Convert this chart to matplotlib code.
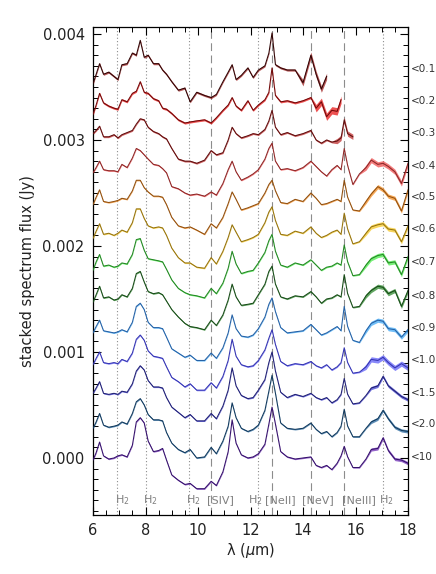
import numpy as np
import matplotlib
matplotlib.use("Agg")
import matplotlib.pyplot as plt
import matplotlib.transforms as mtransforms

nan = float("nan")

# rest wavelength grid (micron), shared by all stacks
wave = [6.0, 6.12, 6.25, 6.4, 6.6, 6.8, 6.95, 7.1, 7.3, 7.5,
        7.65, 7.8, 7.95, 8.1, 8.3, 8.5, 8.65, 8.8, 9.0, 9.25,
        9.5, 9.7, 9.95, 10.25, 10.5, 10.7, 10.95, 11.15, 11.3, 11.45,
        11.65, 11.9, 12.1, 12.3, 12.55, 12.7, 12.82, 12.95, 13.15, 13.4,
        13.7, 14.0, 14.3, 14.5, 14.7, 14.9, 15.1, 15.3, 15.45, 15.57,
        15.7, 15.9, 16.15, 16.4, 16.6, 16.85, 17.05, 17.25, 17.5, 17.75, 18.0]

# stacked (offset) flux in mJy
s_lt01 = [3.53, 3.62, 3.72, 3.62, 3.64, 3.60, 3.57, 3.71, 3.72, 3.82,
          3.80, 3.94, 3.78, 3.80, 3.72, 3.72, 3.66, 3.62, 3.55, 3.47,
          3.49, 3.36, 3.45, 3.42, 3.40, 3.43, 3.55, 3.64, 3.71, 3.57,
          3.61, 3.68, 3.59, 3.66, 3.70, 3.82, 4.01, 3.71, 3.68, 3.66,
          3.66, 3.54, 3.80, 3.62, 3.48, 3.60, nan, nan, nan, nan,
          nan, nan, nan, nan, nan, nan, nan, nan, nan, nan, nan]
s_lt02 = [3.24, 3.33, 3.44, 3.35, 3.32, 3.30, 3.29, 3.38, 3.36, 3.44,
          3.46, 3.55, 3.45, 3.44, 3.39, 3.37, 3.30, 3.29, 3.25, 3.19,
          3.16, 3.17, 3.18, 3.19, 3.16, 3.21, 3.28, 3.33, 3.40, 3.32,
          3.28, 3.37, 3.28, 3.33, 3.38, 3.45, 3.68, 3.42, 3.36, 3.37,
          3.35, 3.37, 3.40, 3.30, 3.36, 3.22, 3.28, 3.27, 3.38, nan,
          nan, nan, nan, nan, nan, nan, nan, nan, nan, nan, nan]
s_lt03 = [3.06, 3.09, 3.13, 3.03, 3.03, 3.05, 3.02, 3.05, 3.07, 3.09,
          3.15, 3.20, 3.19, 3.12, 3.08, 3.06, 3.03, 3.01, 2.92, 2.82,
          2.80, 2.80, 2.78, 2.81, 2.90, 2.86, 2.88, 3.00, 3.12, 3.06,
          3.02, 3.04, 3.06, 3.05, 3.10, 3.18, 3.28, 3.12, 3.05, 3.07,
          3.04, 3.06, 3.09, 3.00, 2.97, 3.00, 2.98, 2.99, 3.02, 3.19,
          3.06, 3.03, nan, nan, nan, nan, nan, nan, nan, nan, nan]
s_lt04 = [2.69, 2.74, 2.80, 2.72, 2.71, 2.71, 2.70, 2.77, 2.74, 2.83,
          2.92, 2.90, 2.86, 2.82, 2.77, 2.76, 2.73, 2.69, 2.56, 2.54,
          2.50, 2.48, 2.49, 2.47, 2.51, 2.48, 2.59, 2.72, 2.80, 2.70,
          2.62, 2.65, 2.68, 2.72, 2.82, 2.92, 2.97, 2.80, 2.72, 2.73,
          2.71, 2.74, 2.80, 2.75, 2.70, 2.66, 2.72, 2.76, 2.72, 2.92,
          2.76, 2.58, 2.68, 2.74, 2.81, 2.77, 2.78, 2.75, 2.70, 2.59, 2.78]
s_lt05 = [2.39, 2.46, 2.53, 2.42, 2.41, 2.42, 2.43, 2.45, 2.44, 2.52,
          2.62, 2.62, 2.55, 2.51, 2.47, 2.47, 2.46, 2.39, 2.27, 2.19,
          2.17, 2.18, 2.15, 2.11, 2.21, 2.17, 2.27, 2.40, 2.51, 2.44,
          2.34, 2.36, 2.38, 2.40, 2.50, 2.58, 2.62, 2.52, 2.41, 2.40,
          2.44, 2.42, 2.50, 2.45, 2.39, 2.40, 2.42, 2.44, 2.42, 2.62,
          2.46, 2.34, 2.33, 2.42, 2.49, 2.56, 2.53, 2.47, 2.45, 2.33, 2.53]
s_lt06 = [2.07, 2.14, 2.21, 2.11, 2.12, 2.10, 2.12, 2.15, 2.13, 2.22,
          2.35, 2.35, 2.26, 2.19, 2.17, 2.18, 2.17, 2.10, 1.98, 1.89,
          1.84, 1.84, 1.80, 1.79, 1.89, 1.83, 1.95, 2.08, 2.20, 2.13,
          2.04, 2.06, 2.08, 2.11, 2.22, 2.32, 2.37, 2.24, 2.11, 2.10,
          2.14, 2.12, 2.18, 2.12, 2.08, 2.10, 2.13, 2.15, 2.11, 2.31,
          2.16, 2.02, 2.04, 2.12, 2.18, 2.20, 2.21, 2.16, 2.15, 2.04, 2.19]
s_lt07 = [1.77, 1.85, 1.92, 1.81, 1.82, 1.80, 1.81, 1.84, 1.83, 1.92,
          2.06, 2.07, 1.96, 1.88, 1.87, 1.86, 1.85, 1.78, 1.68, 1.60,
          1.56, 1.54, 1.53, 1.51, 1.60, 1.55, 1.65, 1.79, 1.95, 1.83,
          1.74, 1.76, 1.77, 1.84, 1.94, 2.05, 2.11, 1.95, 1.82, 1.80,
          1.84, 1.82, 1.87, 1.82, 1.77, 1.80, 1.81, 1.84, 1.82, 2.01,
          1.85, 1.72, 1.73, 1.82, 1.88, 1.91, 1.92, 1.84, 1.85, 1.73, 1.90]
s_lt08 = [1.47, 1.54, 1.62, 1.51, 1.52, 1.49, 1.50, 1.54, 1.52, 1.60,
          1.74, 1.76, 1.66, 1.57, 1.55, 1.56, 1.54, 1.48, 1.40, 1.33,
          1.27, 1.24, 1.23, 1.21, 1.30, 1.25, 1.35, 1.49, 1.64, 1.52,
          1.44, 1.45, 1.46, 1.54, 1.64, 1.76, 1.81, 1.64, 1.52, 1.50,
          1.53, 1.52, 1.57, 1.52, 1.46, 1.50, 1.51, 1.54, 1.52, 1.73,
          1.55, 1.42, 1.43, 1.53, 1.58, 1.62, 1.61, 1.55, 1.58, 1.43, 1.58]
s_lt09 = [1.18, 1.24, 1.30, 1.20, 1.19, 1.18, 1.19, 1.21, 1.19, 1.28,
          1.43, 1.46, 1.40, 1.28, 1.23, 1.23, 1.22, 1.14, 1.03, 0.99,
          0.95, 0.97, 0.92, 0.92, 0.99, 0.94, 1.04, 1.18, 1.35, 1.22,
          1.15, 1.14, 1.16, 1.22, 1.33, 1.45, 1.51, 1.38, 1.23, 1.18,
          1.19, 1.20, 1.26, 1.21, 1.16, 1.18, 1.21, 1.24, 1.20, 1.43,
          1.24, 1.11, 1.09, 1.20, 1.27, 1.30, 1.29, 1.22, 1.21, 1.14, 1.21]
s_lt10 = [0.88, 0.94, 1.00, 0.90, 0.89, 0.90, 0.89, 0.93, 0.91, 0.99,
          1.12, 1.16, 1.11, 1.01, 0.96, 0.95, 0.94, 0.86, 0.76, 0.72,
          0.67, 0.70, 0.64, 0.64, 0.71, 0.66, 0.77, 0.92, 1.12, 0.96,
          0.88, 0.86, 0.87, 0.92, 1.02, 1.13, 1.21, 1.07, 0.91, 0.87,
          0.89, 0.88, 0.91, 0.87, 0.85, 0.88, 0.83, 0.86, 0.90, 1.04,
          0.90, 0.80, 0.81, 0.86, 0.93, 0.92, 0.95, 0.90, 0.85, 0.89, 0.85]
s_lt15 = [0.61, 0.66, 0.72, 0.61, 0.60, 0.61, 0.60, 0.63, 0.62, 0.70,
          0.82, 0.87, 0.83, 0.73, 0.67, 0.67, 0.66, 0.57, 0.48, 0.43,
          0.38, 0.41, 0.35, 0.35, 0.42, 0.37, 0.49, 0.64, 0.85, 0.68,
          0.59, 0.56, 0.57, 0.64, 0.74, 0.90, 1.00, 0.82, 0.62, 0.57,
          0.60, 0.58, 0.61, 0.57, 0.55, 0.57, 0.52, 0.55, 0.60, 0.75,
          0.60, 0.51, 0.52, 0.59, 0.66, 0.68, 0.77, 0.68, 0.63, 0.58, 0.55]
s_lt20 = [0.28, 0.34, 0.42, 0.31, 0.29, 0.30, 0.31, 0.34, 0.32, 0.42,
          0.53, 0.56, 0.50, 0.41, 0.36, 0.36, 0.35, 0.24, 0.14, 0.08,
          0.05, 0.08, 0.00, 0.01, 0.10, 0.04, 0.16, 0.30, 0.52, 0.38,
          0.28, 0.25, 0.27, 0.31, 0.45, 0.63, 0.78, 0.61, 0.33, 0.28,
          0.27, 0.28, 0.33, 0.27, 0.23, 0.25, 0.20, 0.24, 0.30, 0.46,
          0.30, 0.20, 0.20, 0.28, 0.34, 0.37, 0.45, 0.37, 0.29, 0.26, 0.25]
s_lt100 = [-0.02, 0.05, 0.15, 0.02, -0.01, 0.00, 0.02, 0.03, 0.01, 0.12,
           0.34, 0.38, 0.33, 0.16, 0.06, 0.07, 0.09, -0.02, -0.16, -0.21,
           -0.25, -0.24, -0.29, -0.29, -0.22, -0.26, -0.13, 0.06, 0.36, 0.14,
           0.03, 0.00, 0.01, 0.04, 0.13, 0.32, 0.48, 0.32, 0.06, 0.01,
           -0.01, 0.00, 0.01, -0.07, -0.09, -0.07, -0.11, -0.05, 0.02, 0.11,
           0.01, -0.09, -0.09, -0.01, 0.08, 0.09, 0.19, 0.07, -0.01, -0.02, -0.05]

spectra = [s_lt01, s_lt02, s_lt03, s_lt04, s_lt05, s_lt06, s_lt07,
           s_lt08, s_lt09, s_lt10, s_lt15, s_lt20, s_lt100]
bin_labels = ['<0.1', '<0.2', '<0.3', '<0.4', '<0.5', '<0.6', '<0.7',
              '<0.8', '<0.9', '<1.0', '<1.5', '<2.0', '<10']
label_y = [3.67, 3.37, 3.07, 2.75, 2.46, 2.16, 1.85, 1.53, 1.23, 0.92, 0.61, 0.32, 0.01]

# 1-sigma band (mJy): base value and value in the noisy red end
err_base = [0.010, 0.010, 0.008, 0.006, 0.006, 0.006, 0.006, 0.006, 0.006, 0.006, 0.006, 0.006, 0.006]
err_tail = [0.030, 0.035, 0.025, 0.025, 0.020, 0.020, 0.020, 0.020, 0.020, 0.025, 0.015, 0.015, 0.015]
tail_from = [13.9, 14.4, 15.2, 16.3, 16.3, 16.3, 16.3, 16.3, 16.3, 16.3, 16.6, 16.6, 16.6]

line_cols = ['#2e0404', '#700808', '#5e0e0e', '#8c2626', '#8f4f10', '#94720e', '#238523',
             '#174a17', '#2560a4', '#3434b0', '#1f1f72', '#10385c', '#34106a']
band_cols = ['#a02020', '#e81818', '#c03030', '#f05050', '#f58c20', '#f5c828', '#48ea48',
             '#2e8a2e', '#40a8f5', '#6060f8', '#4040d0', '#2a6aa0', '#7030b8']

# emission lines
h2_lines = [6.91, 8.03, 9.66, 12.28, 17.03]
ion_lines = [10.51, 12.81, 14.32, 15.56]
line_names = ['H$_2$', 'H$_2$', 'H$_2$', '[SIV]', 'H$_2$', '[NeII]', '[NeV]', '[NeIII]', 'H$_2$']
name_x = [6.84, 7.92, 9.55, 10.34, 12.47, 12.55, 13.97, 15.49, 16.9]
name_ha = ['left', 'left', 'left', 'left', 'right', 'left', 'left', 'left', 'left']

fig = plt.figure(figsize=(4.36, 5.74), dpi=100)
ax = fig.add_axes([93/436, 59/574, 315/436, 488/574])

for xl in h2_lines:
    ax.axvline(xl, color='#8c8c8c', lw=0.8, ls=(0, (1, 2)), zorder=1)
for xl in ion_lines:
    ax.axvline(xl, color='#8c8c8c', lw=0.8, ls=(0, (7, 4)), zorder=1)

w = np.array(wave)
for i, s in enumerate(spectra):
    f = np.array(s) * 1e-3
    e = np.where(w >= tail_from[i], err_tail[i], err_base[i]) * 1e-3
    ok = ~np.isnan(f)
    ax.fill_between(w[ok], f[ok] - e[ok], f[ok] + e[ok], color=band_cols[i],
                    lw=0, alpha=0.75, zorder=2)
    ax.plot(w[ok], f[ok], color=line_cols[i], lw=0.75, zorder=3)

for name, xn, ha in zip(line_names, name_x, name_ha):
    ax.text(xn, -0.00040, name, color='#808080', fontsize=8, ha=ha, va='center')

trans = mtransforms.blended_transform_factory(ax.transAxes, ax.transData)
for lab, yl in zip(bin_labels, label_y):
    ax.text(1.008, yl * 1e-3, lab, transform=trans, fontsize=7.5, ha='left', va='center',
            color='#333333', clip_on=False)

ax.set_xlim(6, 18)
ax.set_ylim(-0.000538, 0.004066)
ax.set_xticks([6, 8, 10, 12, 14, 16, 18])
ax.set_xticks(np.arange(6, 18.01, 0.5), minor=True)
ax.set_yticks([0.0, 0.001, 0.002, 0.003, 0.004])
ax.set_yticks(np.arange(-0.0005, 0.00406, 0.0001), minor=True)
ax.yaxis.set_major_formatter(matplotlib.ticker.FormatStrFormatter('%.3f'))
ax.tick_params(which='both', direction='in', top=True, right=True, labelsize=10.5,
               labelcolor='#222222')
ax.tick_params(which='major', length=6, width=0.8, pad=6)
ax.tick_params(which='minor', length=3.5, width=0.7)
for sp in ax.spines.values():
    sp.set_linewidth(0.9)

ax.set_xlabel(r'λ ($\mu$m)', fontsize=10.5, color='#222222', labelpad=2)
ax.set_ylabel('stacked spectrum flux (Jy)', fontsize=10.5, color='#222222', labelpad=5)

fig.savefig('out.png', dpi=100)
